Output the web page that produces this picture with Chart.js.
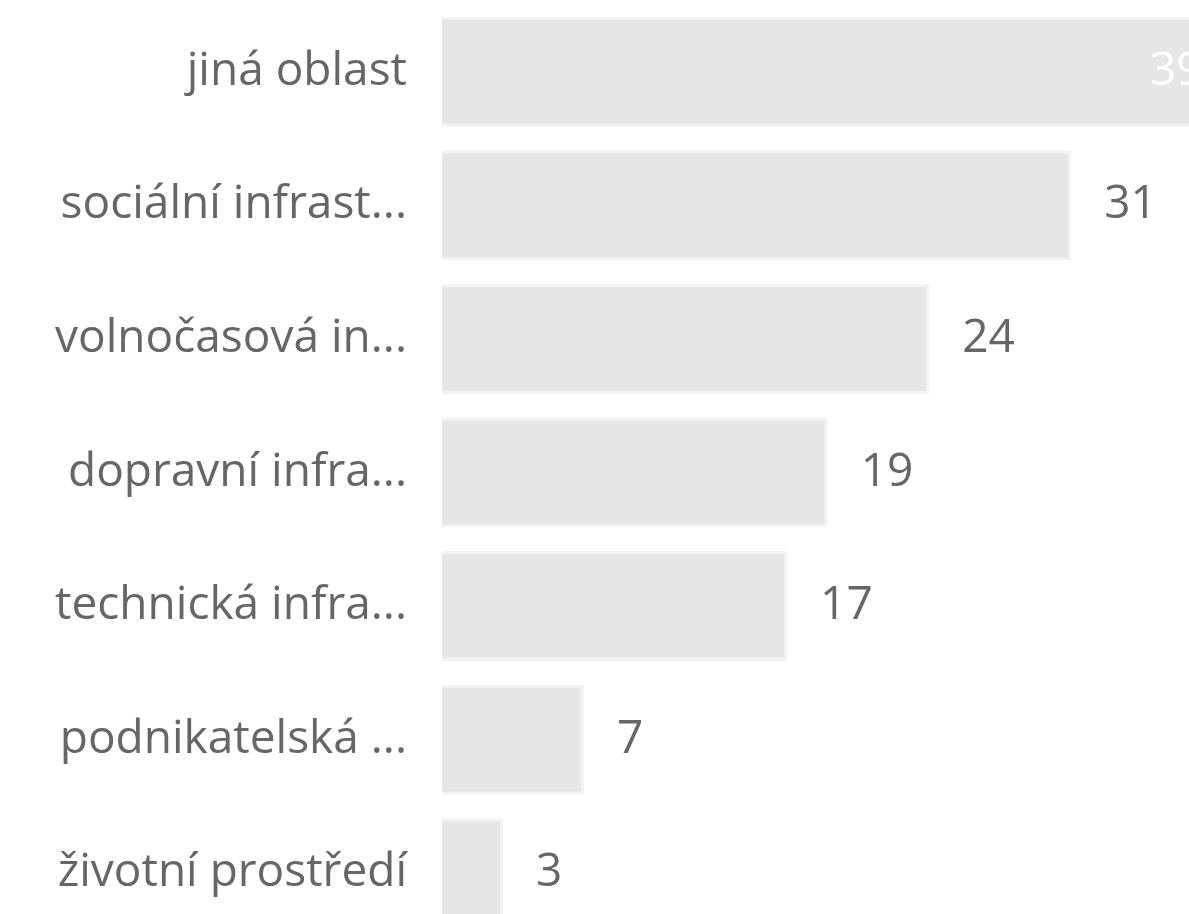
<!DOCTYPE html>
<html>
<head>
<meta charset="utf-8">
<script src="https://cdn.jsdelivr.net/npm/chart.js@4"></script>
<style>
  html, body { margin: 0; padding: 0; background: #ffffff; overflow: hidden; }
  #wrap { position: relative; width: 1189px; height: 940px; }
</style>
</head>
<body>
<div id="wrap"><canvas id="myChart"></canvas></div>
<script>
// popisky kategorií (zkrácené jako v originále)
const categories = [
  'jiná oblast',
  'sociální infrast...',
  'volnočasová in...',
  'dopravní infra...',
  'technická infra...',
  'podnikatelská ...',
  'životní prostředí',
];
const counts = [39, 31, 24, 19, 17, 7, 3];

const labelColor = '#666666';
const fontFamily = '"Open Sans", sans-serif';
const fontSize = 46;

// hodnoty u sloupců
const valueLabels = {
  id: 'valueLabels',
  afterDatasetsDraw(chart) {
    const ctx = chart.ctx;
    const area = chart.chartArea;
    const meta = chart.getDatasetMeta(0);
    ctx.save();
    ctx.font = fontSize + 'px ' + fontFamily;
    ctx.textBaseline = 'middle';
    meta.data.forEach((bar, i) => {
      const text = String(counts[i]);
      if (bar.x > area.right) {
        // nevejde se -> uvnitř sloupce
        ctx.fillStyle = '#ffffff';
        ctx.textAlign = 'right';
        ctx.fillText(text, bar.x - 31, bar.y);
      } else {
        ctx.fillStyle = labelColor;
        ctx.textAlign = 'left';
        ctx.fillText(text, bar.x + 33, bar.y);
      }
    });
    ctx.restore();
  },
};

const config = {
  type: 'bar',
  data: {
    labels: categories,
    datasets: [
      {
        data: counts,
        backgroundColor: '#e6e6e6',
        borderColor: '#f3f3f3',
        borderWidth: 3,
        barPercentage: 0.824,
        categoryPercentage: 1,
      },
    ],
  },
  options: {
    indexAxis: 'y',
    responsive: true,
    maintainAspectRatio: false,
    animation: false,
    layout: { padding: { top: 5, left: 0, right: 0, bottom: 0 } },
    plugins: {
      legend: { display: false },
      tooltip: { enabled: false },
    },
    scales: {
      x: {
        display: false,
        min: 0,
        max: 36.8,
      },
      y: {
        grid: { display: false },
        border: { display: false },
        afterFit(scale) {
          scale.width = 442;
          scale.paddingTop = 0;
          scale.paddingBottom = 0;
        },
        ticks: {
          color: labelColor,
          padding: 27,
          font: { family: fontFamily, size: fontSize },
        },
      },
    },
  },
  plugins: [valueLabels],
};

new Chart(document.getElementById('myChart'), config);
</script>
</body>
</html>
